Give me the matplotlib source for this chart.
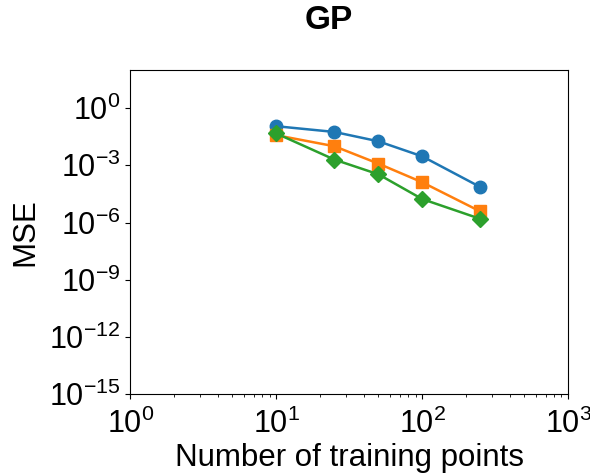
import matplotlib
matplotlib.use("Agg")
import matplotlib.pyplot as plt
from matplotlib.ticker import NullLocator

plt.rcParams['font.family'] = ['Liberation Sans', 'DejaVu Sans']

n_train = [10, 25, 50, 100, 250]
mse_blue = [10**-0.95, 10**-1.25, 10**-1.74, 10**-2.53, 10**-4.14]
mse_orange = [10**-1.42, 10**-2.0, 10**-2.91, 10**-3.89, 10**-5.42]
mse_green = [10**-1.33, 10**-2.70, 10**-3.47, 10**-4.77, 10**-5.81]

fig = plt.figure(figsize=(5.9, 4.76), dpi=100)
ax = fig.add_axes([0.221, 0.172, 0.742, 0.681])

ax.plot(n_train, mse_blue, color='#1f77b4', marker='o', ms=9, lw=1.8)
ax.plot(n_train, mse_orange, color='#ff7f0e', marker='s', ms=8, lw=1.8)
ax.plot(n_train, mse_green, color='#2ca02c', marker='D', ms=8, lw=1.8)

ax.set_xscale('log')
ax.set_yscale('log')
ax.set_xlim(1, 1000)
ax.set_ylim(1e-15, 1e2)
ax.set_yticks([1e-15, 1e-12, 1e-9, 1e-6, 1e-3, 1e0])
ax.yaxis.set_minor_locator(NullLocator())

ax.tick_params(labelsize=22)
ax.tick_params(axis='x', pad=7)
ax.set_xlabel("Number of training points", fontsize=22.5, labelpad=2)
ax.set_ylabel("MSE", fontsize=22.5, labelpad=6)
fig.text(0.558, 0.99, "GP", fontsize=24, fontweight='bold', ha='center', va='top')

plt.savefig("out.png", dpi=100)
